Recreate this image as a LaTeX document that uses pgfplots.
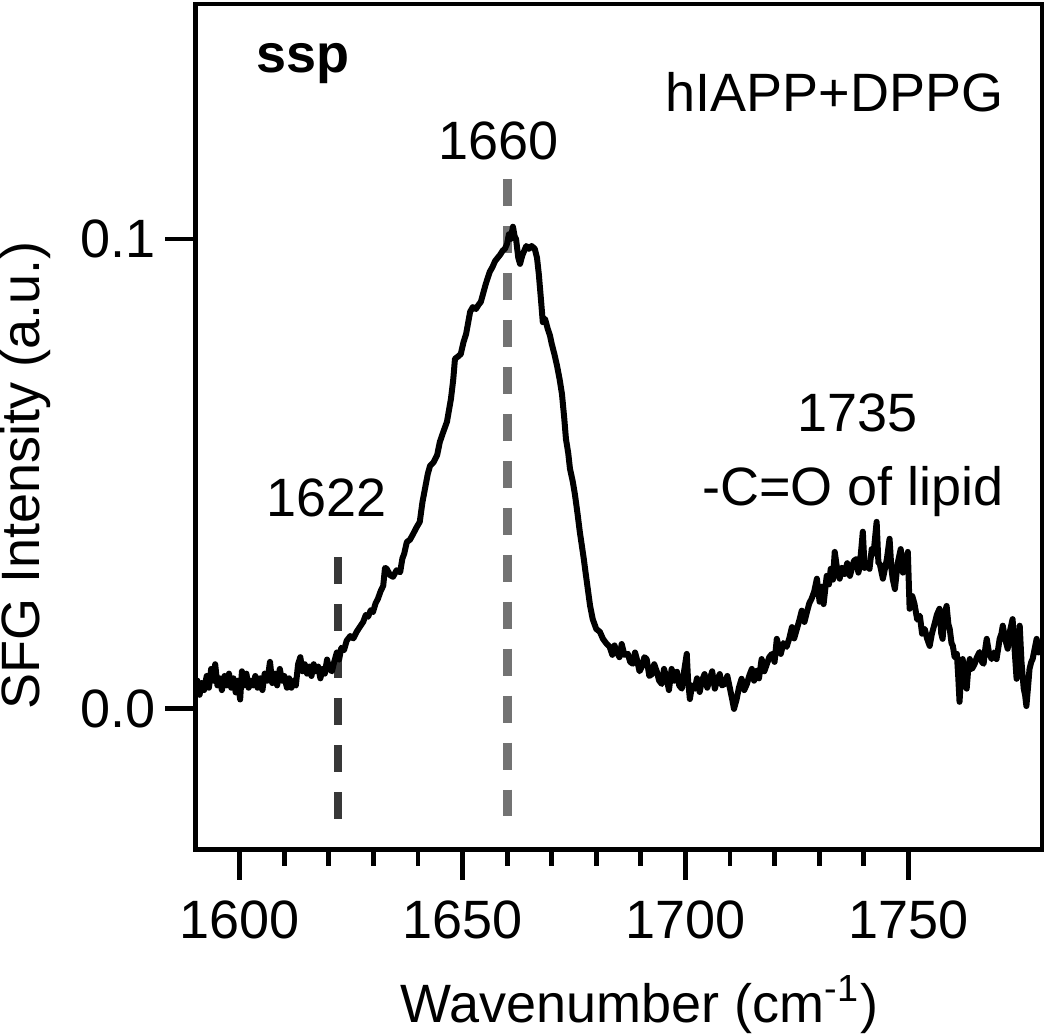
\documentclass[border=0pt]{standalone}
\usepackage{pgfplots}
\pgfplotsset{compat=1.18}
\usepackage{fontspec}
\setmainfont{Liberation Sans}
\newcommand{\ff}{\fontsize{13.5}{16}\selectfont}
\begin{document}
\begin{tikzpicture}
\begin{axis}[
  scale only axis,
  width=211.75pt, height=211.5pt,
  xmin=1590, xmax=1780, ymin=-0.03, ymax=0.15,
  axis line style={line width=1.2pt},
  tick align=outside,
  xtick pos=bottom, ytick pos=left,
  xtick={1600,1650,1700,1750},
  minor x tick num=4,
  ytick={0,0.1},
  yticklabels={0.0,0.1},
  major tick length=7.5pt,
  minor tick length=4pt,
  every tick/.style={black, line width=1.2pt},
  /pgf/number format/assume math mode=true,
  /pgf/number format/1000 sep={},
  tick label style={font=\ff},
  xticklabel style={yshift=-1.75pt},
  yticklabel style={xshift=1.25pt},
  xlabel={Wavenumber (cm\textsuperscript{-1})},
  ylabel={SFG Intensity (a.u.)},
  xlabel style={font=\ff, at={(axis description cs:0.525,-0.183)}, anchor=center, inner sep=0pt},
  ylabel style={font=\ff, at={(axis description cs:-0.2007,0.443)}, anchor=center, rotate=0, inner sep=0pt},
  clip=true,
]
\addplot[black!78, line width=2pt, dash pattern=on 6.75pt off 5pt] coordinates {(1622,0.0323) (1622,-0.0238)};
\addplot[black!55, line width=2.2pt, dash pattern=on 6.75pt off 5pt] coordinates {(1660,0.1128) (1660,-0.0228)};
\addplot[black, line width=1.5pt, line join=round] coordinates {
(1590.0,0.0047) (1590.5,0.0060) (1591.0,0.0030) (1591.5,0.0055) (1592.0,0.0040) (1592.6,0.0070)
(1593.1,0.0045) (1593.6,0.0085) (1594.1,0.0060) (1594.5,0.0095) (1595.0,0.0050) (1595.5,0.0065)
(1596.0,0.0040) (1596.6,0.0070) (1597.1,0.0050) (1597.6,0.0075) (1598.1,0.0045) (1598.6,0.0065)
(1599.1,0.0035) (1599.6,0.0060) (1600.1,0.0020) (1600.5,0.0080) (1601.0,0.0050) (1601.5,0.0075)
(1602.0,0.0045) (1602.5,0.0060) (1603.0,0.0050) (1603.5,0.0070) (1604.0,0.0045) (1604.6,0.0065)
(1605.1,0.0040) (1605.6,0.0075) (1606.2,0.0060) (1606.8,0.0100) (1607.3,0.0055) (1607.9,0.0075)
(1608.4,0.0050) (1609.0,0.0085) (1609.5,0.0060) (1610.0,0.0070) (1610.6,0.0045) (1611.1,0.0065)
(1611.6,0.0045) (1612.1,0.0060) (1612.6,0.0050) (1613.1,0.0095) (1613.6,0.0110) (1614.1,0.0080)
(1614.6,0.0095) (1615.1,0.0075) (1615.6,0.0090) (1616.1,0.0070) (1616.6,0.0095) (1617.1,0.0080)
(1617.6,0.0090) (1618.1,0.0065) (1618.6,0.0085) (1619.1,0.0075) (1619.6,0.0105) (1620.1,0.0085)
(1620.7,0.0080) (1621.2,0.0100) (1621.8,0.0120) (1622.3,0.0105) (1622.8,0.0130) (1623.4,0.0125)
(1624.0,0.0145) (1624.8,0.0155) (1625.5,0.0150) (1626.3,0.0165) (1627.0,0.0175) (1627.7,0.0185)
(1628.3,0.0200) (1628.8,0.0196) (1629.4,0.0210) (1629.9,0.0206) (1630.5,0.0225) (1631.0,0.0234)
(1631.6,0.0250) (1632.2,0.0262) (1632.6,0.0300) (1633.0,0.0298) (1633.7,0.0285) (1634.4,0.0281)
(1635.2,0.0295) (1636.0,0.0291) (1636.5,0.0320) (1636.9,0.0330) (1637.5,0.0355) (1638.2,0.0360)
(1638.9,0.0372) (1639.6,0.0385) (1640.4,0.0398) (1641.0,0.0440) (1641.6,0.0470) (1642.2,0.0500)
(1642.7,0.0517) (1643.5,0.0525) (1644.3,0.0540) (1644.9,0.0568) (1645.7,0.0590) (1646.5,0.0611)
(1647.4,0.0660) (1647.9,0.0700) (1648.3,0.0745) (1649.0,0.0750) (1649.6,0.0755) (1650.2,0.0780)
(1650.8,0.0798) (1651.7,0.0845) (1652.3,0.0855) (1653.0,0.0851) (1653.6,0.0860) (1654.1,0.0866)
(1655.2,0.0904) (1656.1,0.0930) (1656.7,0.0940) (1657.3,0.0953) (1658.4,0.0966) (1659.0,0.0975)
(1659.5,0.0979) (1660.0,0.0990) (1660.4,0.1010) (1660.8,0.1000) (1661.3,0.1026) (1661.7,0.1005)
(1662.0,0.1000) (1662.5,0.0960) (1662.9,0.0947) (1663.4,0.0965) (1663.8,0.0974) (1664.3,0.0985)
(1664.9,0.0979) (1665.5,0.0985) (1666.2,0.0979) (1666.7,0.0960) (1667.1,0.0926) (1667.6,0.0870)
(1668.0,0.0823) (1668.5,0.0830) (1669.1,0.0809) (1669.6,0.0795) (1670.0,0.0777) (1670.6,0.0755)
(1671.2,0.0730) (1671.8,0.0700) (1672.3,0.0670) (1672.8,0.0620) (1673.2,0.0574) (1673.7,0.0545)
(1674.1,0.0511) (1674.7,0.0485) (1675.2,0.0457) (1675.8,0.0415) (1676.3,0.0377) (1676.8,0.0345)
(1677.2,0.0319) (1677.6,0.0290) (1678.1,0.0255) (1678.6,0.0220) (1679.2,0.0191) (1680.0,0.0170)
(1680.8,0.0164) (1681.5,0.0149) (1682.2,0.0140) (1683.0,0.0132) (1683.6,0.0115) (1684.1,0.0135)
(1684.6,0.0121) (1685.2,0.0110) (1685.7,0.0138) (1686.3,0.0115) (1687.1,0.0117) (1687.6,0.0100)
(1688.2,0.0096) (1688.7,0.0120) (1689.1,0.0106) (1689.7,0.0080) (1690.2,0.0089) (1690.8,0.0110)
(1691.3,0.0106) (1691.9,0.0070) (1692.5,0.0074) (1693.0,0.0095) (1693.6,0.0079) (1694.1,0.0060)
(1694.7,0.0053) (1695.2,0.0085) (1695.8,0.0064) (1696.3,0.0040) (1696.9,0.0085) (1697.5,0.0060)
(1698.1,0.0079) (1698.6,0.0050) (1699.2,0.0043) (1699.7,0.0080) (1700.3,0.0117) (1700.6,0.0060)
(1701.0,0.0021) (1701.5,0.0050) (1702.1,0.0043) (1702.6,0.0065) (1703.2,0.0036) (1703.7,0.0060)
(1704.3,0.0074) (1704.9,0.0045) (1705.5,0.0064) (1706.0,0.0080) (1706.6,0.0043) (1707.1,0.0060)
(1707.7,0.0074) (1708.2,0.0050) (1708.8,0.0053) (1709.4,0.0070) (1710.0,0.0043) (1710.5,0.0020)
(1710.9,0.0000) (1711.5,0.0021) (1712.0,0.0045) (1712.6,0.0064) (1713.2,0.0040) (1713.8,0.0053)
(1714.3,0.0070) (1714.9,0.0085) (1715.4,0.0060) (1716.0,0.0081) (1716.5,0.0065) (1717.1,0.0106)
(1717.7,0.0080) (1718.3,0.0096) (1718.8,0.0110) (1719.4,0.0117) (1720.0,0.0100) (1720.5,0.0149)
(1721.0,0.0130) (1721.4,0.0117) (1722.0,0.0140) (1722.7,0.0132) (1723.3,0.0150) (1723.9,0.0174)
(1724.4,0.0150) (1725.0,0.0170) (1725.6,0.0190) (1726.1,0.0209) (1726.7,0.0185) (1727.2,0.0204)
(1727.8,0.0225) (1728.3,0.0234) (1728.9,0.0250) (1729.5,0.0277) (1730.1,0.0228) (1730.6,0.0260)
(1731.0,0.0223) (1731.7,0.0283) (1732.2,0.0265) (1732.6,0.0298) (1733.1,0.0275) (1733.5,0.0334)
(1734.0,0.0300) (1734.6,0.0277) (1735.1,0.0300) (1735.7,0.0287) (1736.3,0.0310) (1736.9,0.0283)
(1737.4,0.0300) (1737.8,0.0315) (1738.4,0.0319) (1738.8,0.0290) (1739.1,0.0302) (1739.8,0.0377)
(1740.2,0.0300) (1740.7,0.0309) (1741.3,0.0298) (1741.8,0.0340) (1742.2,0.0330) (1742.9,0.0398)
(1743.3,0.0310) (1743.6,0.0309) (1744.3,0.0277) (1744.8,0.0300) (1745.2,0.0319) (1745.8,0.0362)
(1746.2,0.0300) (1746.5,0.0277) (1747.0,0.0255) (1747.6,0.0309) (1748.3,0.0340) (1748.8,0.0290)
(1749.2,0.0298) (1749.9,0.0334) (1750.3,0.0213) (1750.9,0.0240) (1751.4,0.0223) (1752.0,0.0190)
(1752.6,0.0198) (1753.1,0.0160) (1753.7,0.0170) (1754.2,0.0150) (1754.8,0.0134) (1755.3,0.0160)
(1755.9,0.0181) (1756.4,0.0200) (1757.0,0.0213) (1757.4,0.0160) (1757.7,0.0149) (1758.1,0.0200)
(1758.6,0.0219) (1759.0,0.0180) (1759.3,0.0170) (1759.7,0.0140) (1760.0,0.0134) (1760.4,0.0110)
(1760.9,0.0117) (1761.2,0.0070) (1761.5,0.0015) (1761.9,0.0080) (1762.2,0.0106) (1762.7,0.0070)
(1763.1,0.0043) (1763.5,0.0090) (1763.8,0.0106) (1764.3,0.0085) (1764.9,0.0096) (1765.4,0.0110)
(1766.0,0.0121) (1766.5,0.0100) (1766.9,0.0096) (1767.3,0.0130) (1767.6,0.0149) (1768.1,0.0120)
(1768.7,0.0106) (1769.2,0.0120) (1769.8,0.0106) (1770.2,0.0130) (1770.5,0.0149) (1770.9,0.0160)
(1771.2,0.0177) (1771.7,0.0150) (1772.3,0.0128) (1772.8,0.0165) (1773.4,0.0191) (1773.9,0.0120)
(1774.3,0.0064) (1774.6,0.0130) (1775.0,0.0177) (1775.4,0.0100) (1775.9,0.0043) (1776.2,0.0030)
(1776.5,0.0006) (1776.9,0.0050) (1777.2,0.0085) (1777.6,0.0100) (1777.9,0.0106) (1778.4,0.0130)
(1778.8,0.0149) (1779.2,0.0120) (1779.5,0.0134) (1780.0,0.0128)
};
\node[font=\ff\bfseries, anchor=base west, inner sep=0pt] at (axis cs:1603.5,0.1355) {ssp};
\node[font=\ff, anchor=base east, inner sep=0pt] at (axis cs:1771.5,0.1272) {hIAPP+DPPG};
\node[font=\ff, anchor=base, inner sep=0pt] at (axis cs:1658.0,0.1170) {1660};
\node[font=\ff, anchor=base, inner sep=0pt] at (axis cs:1619.4,0.0409) {1622};
\node[font=\ff, anchor=base, inner sep=0pt] at (axis cs:1738.6,0.0591) {1735};
\node[font=\ff, anchor=base, inner sep=0pt] at (axis cs:1737.6,0.0432) {-C=O of lipid};
\end{axis}
\path ([xshift=-48.75pt,yshift=-46pt]current axis.south west) rectangle ([xshift=2pt,yshift=1pt]current axis.north east);
\end{tikzpicture}
\end{document}
